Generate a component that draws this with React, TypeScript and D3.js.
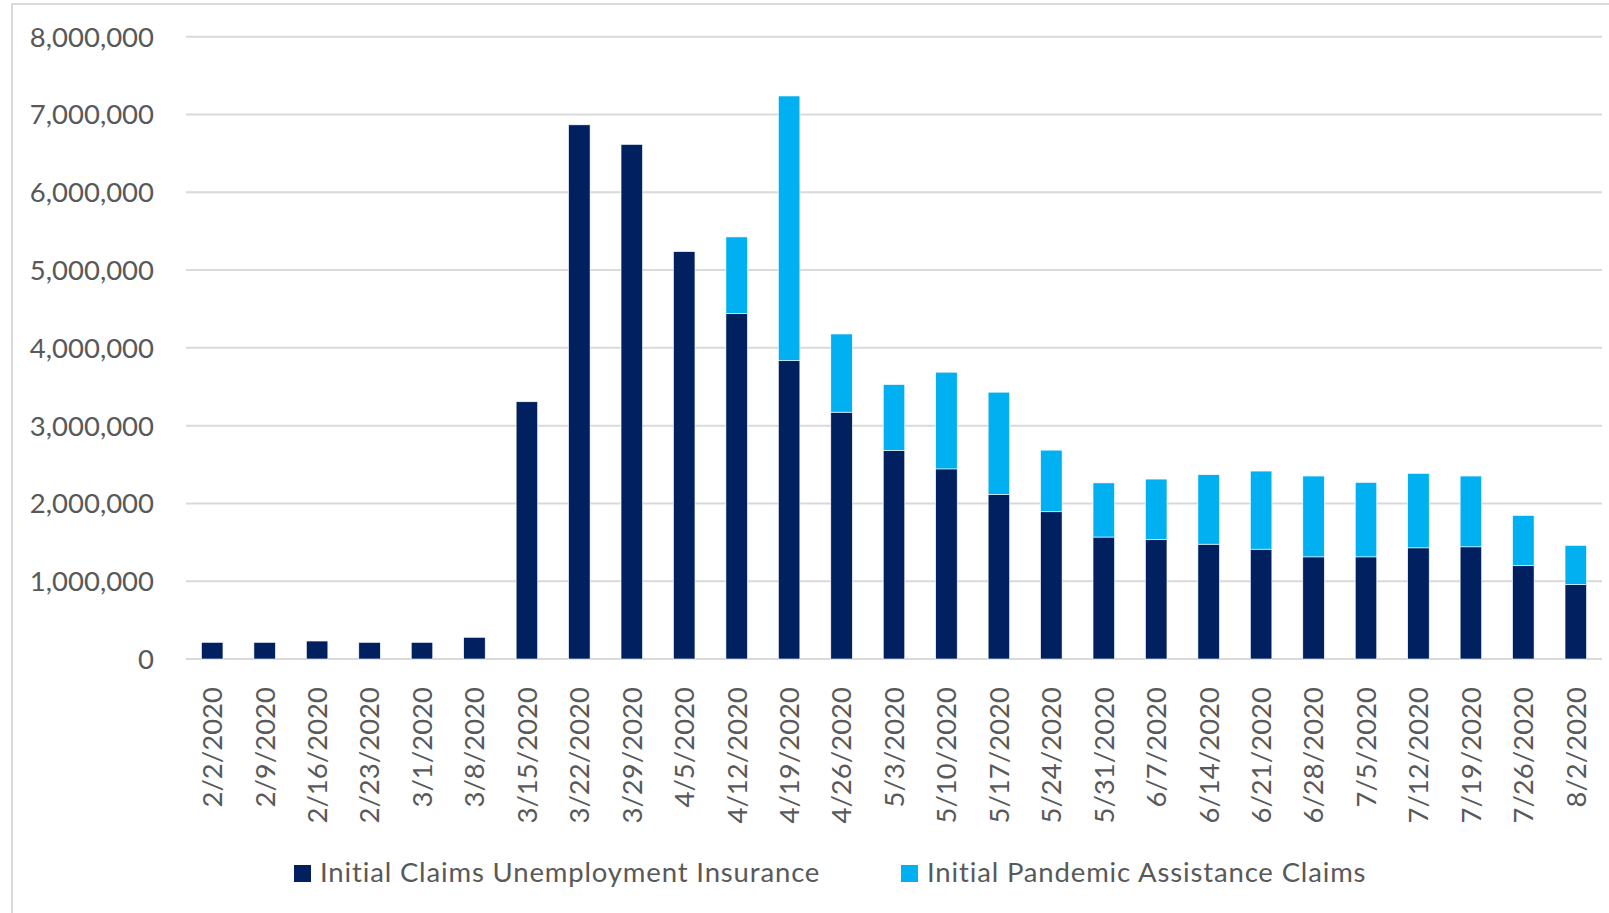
import React from "react";
import * as d3 from "d3";

const weeks = [
  "2/2/2020", "2/9/2020", "2/16/2020", "2/23/2020", "3/1/2020", "3/8/2020", "3/15/2020",
  "3/22/2020", "3/29/2020", "4/5/2020", "4/12/2020", "4/19/2020", "4/26/2020", "5/3/2020",
  "5/10/2020", "5/17/2020", "5/24/2020", "5/31/2020", "6/7/2020", "6/14/2020", "6/21/2020",
  "6/28/2020", "7/5/2020", "7/12/2020", "7/19/2020", "7/26/2020", "8/2/2020",
];

const unemploymentInsurance = [
  214000, 214000, 231000, 214000, 214000, 279000, 3307000,
  6867000, 6615000, 5237000, 4440000, 3836000, 3173000, 2682000,
  2444000, 2117000, 1893000, 1568000, 1537000, 1476000, 1412000,
  1313000, 1313000, 1429000, 1442000, 1202000, 957000,
];

const pandemicAssistance = [
  0, 0, 0, 0, 0, 0, 0,
  0, 0, 0, 986000, 3402000, 1005000, 846000,
  1243000, 1313000, 792000, 696000, 776000, 893000, 1004000,
  1039000, 957000, 957000, 910000, 643000, 502000,
];

const seriesNames = ["Initial Claims Unemployment Insurance", "Initial Pandemic Assistance Claims"];
const seriesColors = ["#002060", "#00B0F0"];
const yTicks = [0, 1000000, 2000000, 3000000, 4000000, 5000000, 6000000, 7000000, 8000000];

const W = 1609;
const H = 913;
const plotLeft = 186;
const plotRight = 1602;
const plotTop = 36.7;
const plotBottom = 659;
const FONT = "Lato, 'Open Sans', sans-serif";
const TEXT = "#595959";

export default function App() {
  const x = d3
    .scaleBand<string>()
    .domain(weeks)
    .range([plotLeft, plotRight])
    .paddingInner(0.59)
    .paddingOuter(0.295);
  const y = d3.scaleLinear().domain([0, 8000000]).range([plotBottom, plotTop]);
  const fmt = d3.format(",");

  const rows = weeks.map((w, i) => ({ week: w, ui: unemploymentInsurance[i], pua: pandemicAssistance[i] }));
  const stack = d3.stack<any>().keys(["ui", "pua"])(rows);

  return (
    <svg width={W} height={H} style={{ position: "absolute", left: 0, top: 0, background: "#fff" }}>
      <rect x={12} y={4} width={W} height={H} fill="#fff" stroke="#d9d9d9" strokeWidth={2} />
      {yTicks.map((t) => (
        <g key={t}>
          <line x1={plotLeft} x2={plotRight} y1={y(t)} y2={y(t)} stroke="#d9d9d9" strokeWidth={2} />
          <text
            x={154}
            y={y(t)}
            dy="0.36em"
            textAnchor="end"
            fontFamily={FONT}
            fontSize={27.5}
            fill={TEXT}
          >
            {fmt(t)}
          </text>
        </g>
      ))}
      {stack.map((s, si) => (
        <g key={si} fill={seriesColors[si]}>
          {s.map((d: any, i: number) =>
            d[1] - d[0] > 0 ? (
              <rect
                key={i}
                x={x(weeks[i])}
                width={x.bandwidth()}
                y={y(d[1])}
                height={y(d[0]) - y(d[1])}
                stroke="#ffffff"
                strokeWidth={0.6}
              />
            ) : null
          )}
        </g>
      ))}
      {weeks.map((w) => {
        const cx = (x(w) as number) + x.bandwidth() / 2;
        return (
          <text
            key={w}
            transform={`translate(${cx},687) rotate(-90)`}
            dy="0.36em"
            textAnchor="end"
            fontFamily={FONT}
            fontSize={27.5}
            fill={TEXT}
          >
            {w}
          </text>
        );
      })}
      {[294, 901].map((lx, i) => (
        <g key={i}>
          <rect x={lx} y={865} width={17} height={17} fill={seriesColors[i]} />
          <text
            x={lx + 26}
            y={882}
            fontFamily={FONT}
            fontSize={27.5}
            letterSpacing={0.85}
            fill={TEXT}
          >
            {seriesNames[i]}
          </text>
        </g>
      ))}
    </svg>
  );
}
